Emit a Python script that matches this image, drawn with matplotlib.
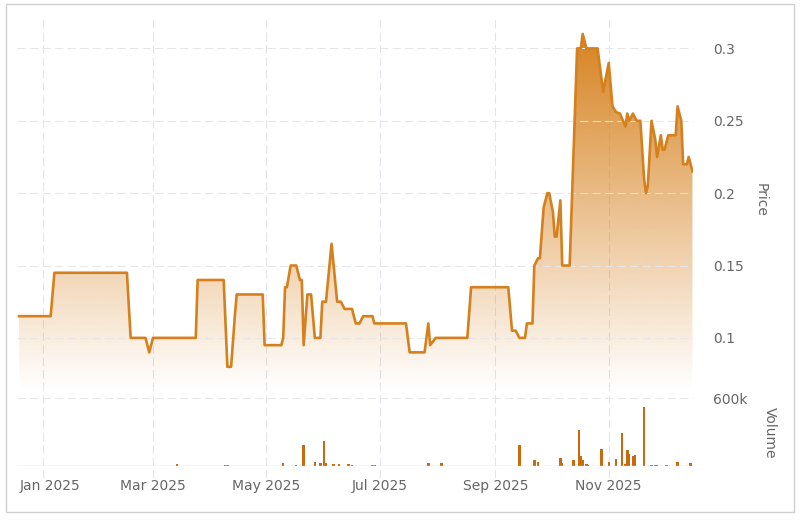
import numpy as np
import pandas as pd
import matplotlib
matplotlib.use("Agg")
import matplotlib.pyplot as plt
import matplotlib.dates as mdates
from matplotlib.patches import Polygon, Rectangle

# price line breakpoints
price_dates = ["2024-12-19", "2025-01-05", "2025-01-07", "2025-02-15", "2025-02-17",
               "2025-02-25", "2025-02-27", "2025-03-01", "2025-03-24", "2025-03-25",
               "2025-04-08", "2025-04-10", "2025-04-12", "2025-04-14", "2025-04-15",
               "2025-04-29", "2025-04-30", "2025-05-09", "2025-05-10", "2025-05-11",
               "2025-05-12", "2025-05-14", "2025-05-17", "2025-05-19", "2025-05-20",
               "2025-05-21", "2025-05-23", "2025-05-25", "2025-05-27", "2025-05-30",
               "2025-05-31", "2025-06-02", "2025-06-05", "2025-06-08", "2025-06-10",
               "2025-06-12", "2025-06-16", "2025-06-18", "2025-06-20", "2025-06-22",
               "2025-06-27", "2025-06-28", "2025-07-15", "2025-07-17", "2025-07-25",
               "2025-07-27", "2025-07-28", "2025-07-31", "2025-08-17", "2025-08-19",
               "2025-09-08", "2025-09-10", "2025-09-12", "2025-09-14", "2025-09-17",
               "2025-09-18", "2025-09-21", "2025-09-22", "2025-09-24", "2025-09-25",
               "2025-09-27", "2025-09-29", "2025-09-30", "2025-10-02", "2025-10-03",
               "2025-10-04", "2025-10-06", "2025-10-07", "2025-10-11", "2025-10-13",
               "2025-10-15", "2025-10-17", "2025-10-18", "2025-10-20", "2025-10-26",
               "2025-10-28", "2025-10-29", "2025-11-01", "2025-11-03", "2025-11-05",
               "2025-11-07", "2025-11-10", "2025-11-11", "2025-11-12", "2025-11-14",
               "2025-11-16", "2025-11-18", "2025-11-20", "2025-11-21", "2025-11-22",
               "2025-11-24", "2025-11-26", "2025-11-27", "2025-11-29", "2025-11-30",
               "2025-12-01", "2025-12-03", "2025-12-07", "2025-12-08", "2025-12-10",
               "2025-12-11", "2025-12-13", "2025-12-14", "2025-12-16"]
price_values = [0.115, 0.115, 0.145, 0.145, 0.10,
                0.10, 0.09, 0.10, 0.10, 0.14,
                0.14, 0.08, 0.08, 0.115, 0.13,
                0.13, 0.095, 0.095, 0.10, 0.135,
                0.135, 0.15, 0.15, 0.14, 0.14,
                0.095, 0.13, 0.13, 0.10, 0.10,
                0.125, 0.125, 0.165, 0.125, 0.125,
                0.12, 0.12, 0.11, 0.11, 0.115,
                0.115, 0.11, 0.11, 0.09, 0.09,
                0.11, 0.095, 0.10, 0.10, 0.135,
                0.135, 0.105, 0.105, 0.10, 0.10,
                0.11, 0.11, 0.15, 0.155, 0.155,
                0.19, 0.20, 0.20, 0.187, 0.17,
                0.17, 0.195, 0.15, 0.15, 0.225,
                0.30, 0.30, 0.31, 0.30, 0.30,
                0.28, 0.27, 0.29, 0.26, 0.256,
                0.255, 0.246, 0.255, 0.25, 0.255,
                0.25, 0.25, 0.21, 0.20, 0.205,
                0.25, 0.237, 0.225, 0.24, 0.23,
                0.23, 0.24, 0.24, 0.26, 0.25,
                0.22, 0.22, 0.225, 0.215]

vol_dates = ["2025-03-14", "2025-04-09", "2025-04-10", "2025-05-10", "2025-05-17",
             "2025-05-21", "2025-05-27", "2025-05-30", "2025-06-01", "2025-06-02",
             "2025-06-06", "2025-06-09", "2025-06-14", "2025-06-16", "2025-06-27",
             "2025-06-28", "2025-07-27", "2025-08-03", "2025-09-14", "2025-09-22",
             "2025-09-24", "2025-10-06", "2025-10-07", "2025-10-13", "2025-10-16",
             "2025-10-17", "2025-10-18", "2025-10-20", "2025-10-21", "2025-10-28",
             "2025-11-01", "2025-11-05", "2025-11-08", "2025-11-10", "2025-11-11",
             "2025-11-12", "2025-11-14", "2025-11-15", "2025-11-20", "2025-11-24",
             "2025-11-26", "2025-11-27", "2025-12-02", "2025-12-08", "2025-12-15"]
vol_values = [15000, 12000, 12000, 28000, 8000,
              183000, 34000, 30000, 225000, 25000,
              15000, 15000, 15000, 10000, 12000,
              12000, 30000, 30000, 188000, 52000,
              35000, 72000, 25000, 52000, 315000,
              86000, 52000, 17000, 8000, 152000,
              34000, 60000, 294000, 15000, 137000,
              103000, 86000, 94000, 523000, 13000,
              13000, 13000, 8000, 34000, 25000]

tick_dates = ["2025-01-01", "2025-03-01", "2025-05-01", "2025-07-01", "2025-09-01", "2025-11-01"]
tick_labels = ["Jan 2025", "Mar 2025", "May 2025", "Jul 2025", "Sep 2025", "Nov 2025"]
price_ticks = [0.1, 0.15, 0.2, 0.25, 0.3]
price_tick_labels = ["0.1", "0.15", "0.2", "0.25", "0.3"]

W, H = 800, 521
line_c = "#d5801c"
vol_c = "#c96a0e"
text_c = "#666666"
grid_c = "#e6e6e6"
dash = (0, (8, 4))

def box(l, t, r, b):
    return [l / W, 1 - b / H, (r - l) / W, (b - t) / H]

fig = plt.figure(figsize=(W / 100, H / 100), dpi=100)
fig.patches.append(Rectangle((6 / W, 1 - 512 / H), 788 / W, 508 / H, transform=fig.transFigure,
                             fill=False, ec="#cfcfcf", lw=1))

px = mdates.date2num(pd.to_datetime(price_dates))
vx = mdates.date2num(pd.to_datetime(vol_dates))
tx = mdates.date2num(pd.to_datetime(tick_dates))
x0 = mdates.date2num(pd.Timestamp("2025-01-01"))
xlim = (x0 - 14.1, x0 + 349.3)

# background axes for the vertical grid
bg = fig.add_axes(box(17, 16, 693, 478))
bg.set_xlim(xlim)
bg.set_xticks(tx)
bg.grid(axis="x", color="#e3e3ea", ls=dash, lw=0.75)
bg.tick_params(length=0, labelbottom=False, labelleft=False)
bg.set_yticks([])
for s in bg.spines.values():
    s.set_visible(False)
bg.patch.set_alpha(0)

# price pane
ylo, yhi = 0.064, 0.3224
ax = fig.add_axes(box(17, 16, 693, 390))
ax.patch.set_alpha(0)
img = np.zeros((256, 1, 4))
img[..., 0] = 213 / 255
img[..., 1] = 125 / 255
img[..., 2] = 22 / 255
img[:, 0, 3] = np.linspace(0, 1.0, 256)
im = ax.imshow(img, extent=[xlim[0], xlim[1], ylo, yhi], origin="lower", aspect="auto",
               interpolation="bilinear", zorder=1)
verts = list(zip(px, price_values)) + [(px[-1], ylo), (px[0], ylo)]
poly = Polygon(verts, closed=True, fc="none", ec="none")
ax.add_patch(poly)
im.set_clip_path(poly)
ax.plot(px, price_values, color=line_c, lw=1.9, zorder=3, solid_joinstyle="round")
ax.set_xlim(xlim)
ax.set_ylim(ylo, yhi)
ax.set_yticks(price_ticks)
ax.set_yticklabels(price_tick_labels)
ax.yaxis.tick_right()
ax.tick_params(axis="y", length=0, pad=14.4, labelsize=10, labelcolor=text_c)
ax.set_xticks([])
ax.grid(axis="y", color=grid_c, ls=dash, lw=0.75, zorder=0)
for s in ax.spines.values():
    s.set_visible(False)

# volume pane
ax2 = fig.add_axes(box(17, 398, 693, 466))
ax2.patch.set_alpha(0)
ax2.bar(vx, vol_values, width=1.3, color=vol_c, zorder=3)
ax2.set_xlim(xlim)
ax2.set_ylim(0, 600000)
ax2.set_yticks([600000])
ax2.set_yticklabels(["600k"])
ax2.yaxis.tick_right()
ax2.tick_params(axis="y", length=0, pad=14.4, labelsize=10, labelcolor=text_c)
ax2.grid(axis="y", color=grid_c, ls=dash, lw=0.75, zorder=0)
ax2.axhline(0, color="#ccd6eb", lw=1, zorder=4)
ax2.set_xticks([])
for s in ax2.spines.values():
    s.set_visible(False)

for i, (d, lab) in enumerate(zip(tx, tick_labels)):
    dx = 7 if i == 0 else 0
    ax2.annotate(lab, xy=(d, 0), xycoords=ax2.get_xaxis_transform(), xytext=(dx, -20),
                 textcoords="offset pixels", ha="center", va="center", fontsize=10, color=text_c)

fig.text(761 / W, 1 - 200 / H, "Price", rotation=-90, ha="center", va="center", fontsize=10, color=text_c)
fig.text(770 / W, 1 - 433 / H, "Volume", rotation=-90, ha="center", va="center", fontsize=10, color=text_c)

fig.savefig("out.png", dpi=100)
